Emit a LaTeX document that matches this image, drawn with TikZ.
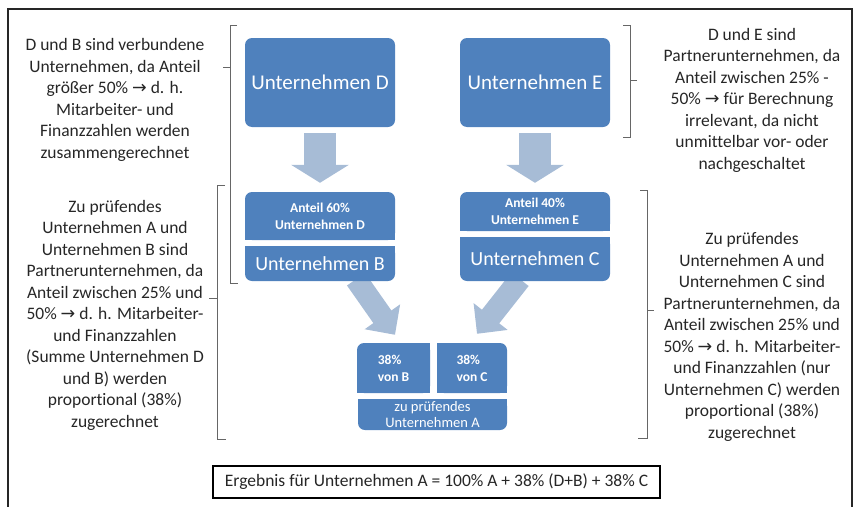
\documentclass[tikz,border=0pt]{standalone}
\usepackage{fontspec}
\setmainfont[Ligatures=NoCommon]{Carlito}
\newfontfamily\dejavu{DejaVu Sans}
\usetikzlibrary{arrows.meta}
\pgfdeclarelayer{bg}
\pgfsetlayers{bg,main}
\definecolor{boxblue}{RGB}{79,129,189}
\definecolor{arrowblue}{RGB}{167,188,214}
\definecolor{txtgray}{RGB}{38,38,38}
\newcommand\rarr{{\dejavu →}}
\tikzset{
  bigbox/.style={fill=boxblue, text=white, inner sep=0pt, rounded corners=7pt, align=center},
  smallbox/.style={fill=boxblue, text=white, inner sep=0pt, rounded corners=7pt, font=\bfseries\fontsize{13.5}{17}\selectfont},
  sq/.style={fill=boxblue},
  note/.style={text=txtgray, align=center, font=\fontsize{17.5}{21.5}\selectfont, inner sep=0pt},
  fatarrow/.style={draw=arrowblue, line width=32pt, -{Triangle[width=57pt,length=18pt]}},
  fatdiag/.style={draw=arrowblue, line width=22pt, -{Triangle[width=42pt,length=22pt]}},
  bracket/.style={draw=black!60, line width=1pt},
  frameline/.style={draw=black!85, line width=2.5pt}
}
\begin{document}
\begin{tikzpicture}[x=1pt,y=-1pt]
\useasboundingbox (0,0) rectangle (859,506);
% frame
\draw[frameline] (8,515) -- (8,9) -- (852,9) -- (852,515);

% boxes
\node[bigbox, minimum width=150pt, minimum height=89pt, font=\fontsize{21}{25}\selectfont] (D) at (320,82.5) {Unternehmen D};
\node[bigbox, minimum width=150pt, minimum height=89pt, font=\fontsize{21}{25}\selectfont] (E) at (535,82.5) {Unternehmen E};

\node[smallbox, align=center, minimum width=150pt, minimum height=48pt] (A60) at (320,216) {Anteil 60\%\\Unternehmen D};
\path[sq] (A60.south west) rectangle ++(8,-8);
\path[sq] (A60.south east) rectangle ++(-8,-8);
\node[bigbox, minimum width=150pt, minimum height=35pt, font=\fontsize{20}{24}\selectfont] (B) at (320,263.5) {Unternehmen B};
\path[sq] (B.north west) rectangle ++(8,8);
\path[sq] (B.north east) rectangle ++(-8,8);

\node[smallbox, align=center, minimum width=150pt, minimum height=39pt] (A40) at (535,211.5) {Anteil 40\%\\Unternehmen E};
\path[sq] (A40.south west) rectangle ++(8,-8);
\path[sq] (A40.south east) rectangle ++(-8,-8);
\node[bigbox, minimum width=150pt, minimum height=44pt, font=\fontsize{20}{24}\selectfont] (C) at (535,259) {Unternehmen C};
\path[sq] (C.north west) rectangle ++(8,8);
\path[sq] (C.north east) rectangle ++(-8,8);

\node[smallbox, align=left, minimum width=73pt, minimum height=50pt] (vB) at (393.5,368) {38\%\\von B};
\path[sq] (vB.north east) rectangle ++(-8,8);
\path[sq] (vB.south west) rectangle ++(8,-8);
\path[sq] (vB.south east) rectangle ++(-8,-8);
\node[smallbox, align=left, minimum width=70pt, minimum height=50pt] (vC) at (472,368) {38\%\\von C};
\path[sq] (vC.north west) rectangle ++(8,8);
\path[sq] (vC.south west) rectangle ++(8,-8);
\path[sq] (vC.south east) rectangle ++(-8,-8);
\node[bigbox, minimum width=149pt, minimum height=31pt, font=\fontsize{14.5}{15.5}\selectfont] (A) at (432.5,414.5) {zu prüfendes\\Unternehmen A};
\path[sq] (A.north west) rectangle ++(8,8);
\path[sq] (A.north east) rectangle ++(-8,8);

% arrows
\begin{pgfonlayer}{bg}
\draw[fatarrow, shorten <=6pt, shorten >=9pt] (D) -- (A60);
\draw[fatarrow, shorten <=6pt, shorten >=9pt] (E) -- (A40);
\draw[fatdiag] ([xshift=36pt,yshift=2pt]B.south) -- ([xshift=1.5pt,yshift=8pt]vB.north);
\draw[fatdiag] ([xshift=-15pt,yshift=2pt]C.south) -- ([xshift=5pt,yshift=9pt]vC.north);
\end{pgfonlayer}

% brackets
\draw[bracket] (237,25) -- (230,25) -- (230,283) -- (238,283);
\draw[bracket] (230,67) -- (223,67);
\draw[bracket] (225,185) -- (217,185) -- (217,439) -- (226,439);
\draw[bracket] (217,298) -- (209,298);
\draw[bracket] (623,25) -- (630,25) -- (630,137) -- (623,137);
\draw[bracket] (630,80) -- (637,80);
\draw[bracket] (640,190) -- (647,190) -- (647,438) -- (638,438);
\draw[bracket] (647,310) -- (654,310);

% notes
\node[note] (nTL) at (115,100) {D und B sind verbundene\\Unternehmen, da Anteil\\größer 50\% \rarr{} d. h.\\Mitarbeiter- und\\Finanzzahlen werden\\zusammengerechnet};
\node[note] (nBL) at (115,315) {Zu prüfendes\\Unternehmen A und\\Unternehmen B sind\\Partnerunternehmen, da\\Anteil zwischen 25\% und\\50\% \rarr{} d. h. Mitarbeiter-\\und Finanzzahlen\\(Summe Unternehmen D\\und B) werden\\proportional (38\%)\\zugerechnet};
\node[note] (nTR) at (752,100) {D und E sind\\Partnerunternehmen, da\\Anteil zwischen 25\% -\\50\% \rarr{} für Berechnung\\irrelevant, da nicht\\unmittelbar vor- oder\\nachgeschaltet};
\node[note] (nBR) at (752,337) {Zu prüfendes\\Unternehmen A und\\Unternehmen C sind\\Partnerunternehmen, da\\Anteil zwischen 25\% und\\50\% \rarr{} d. h. Mitarbeiter-\\und Finanzzahlen (nur\\Unternehmen C) werden\\proportional (38\%)\\zugerechnet};

% result
\node[draw=black, line width=2.5pt, minimum width=447pt, minimum height=32pt, inner sep=0pt, text=txtgray, font=\fontsize{17.5}{21}\selectfont] (R) at (436.5,482) {Ergebnis für Unternehmen A = 100\% A + 38\% (D+B) + 38\% C};
\end{tikzpicture}
\end{document}
